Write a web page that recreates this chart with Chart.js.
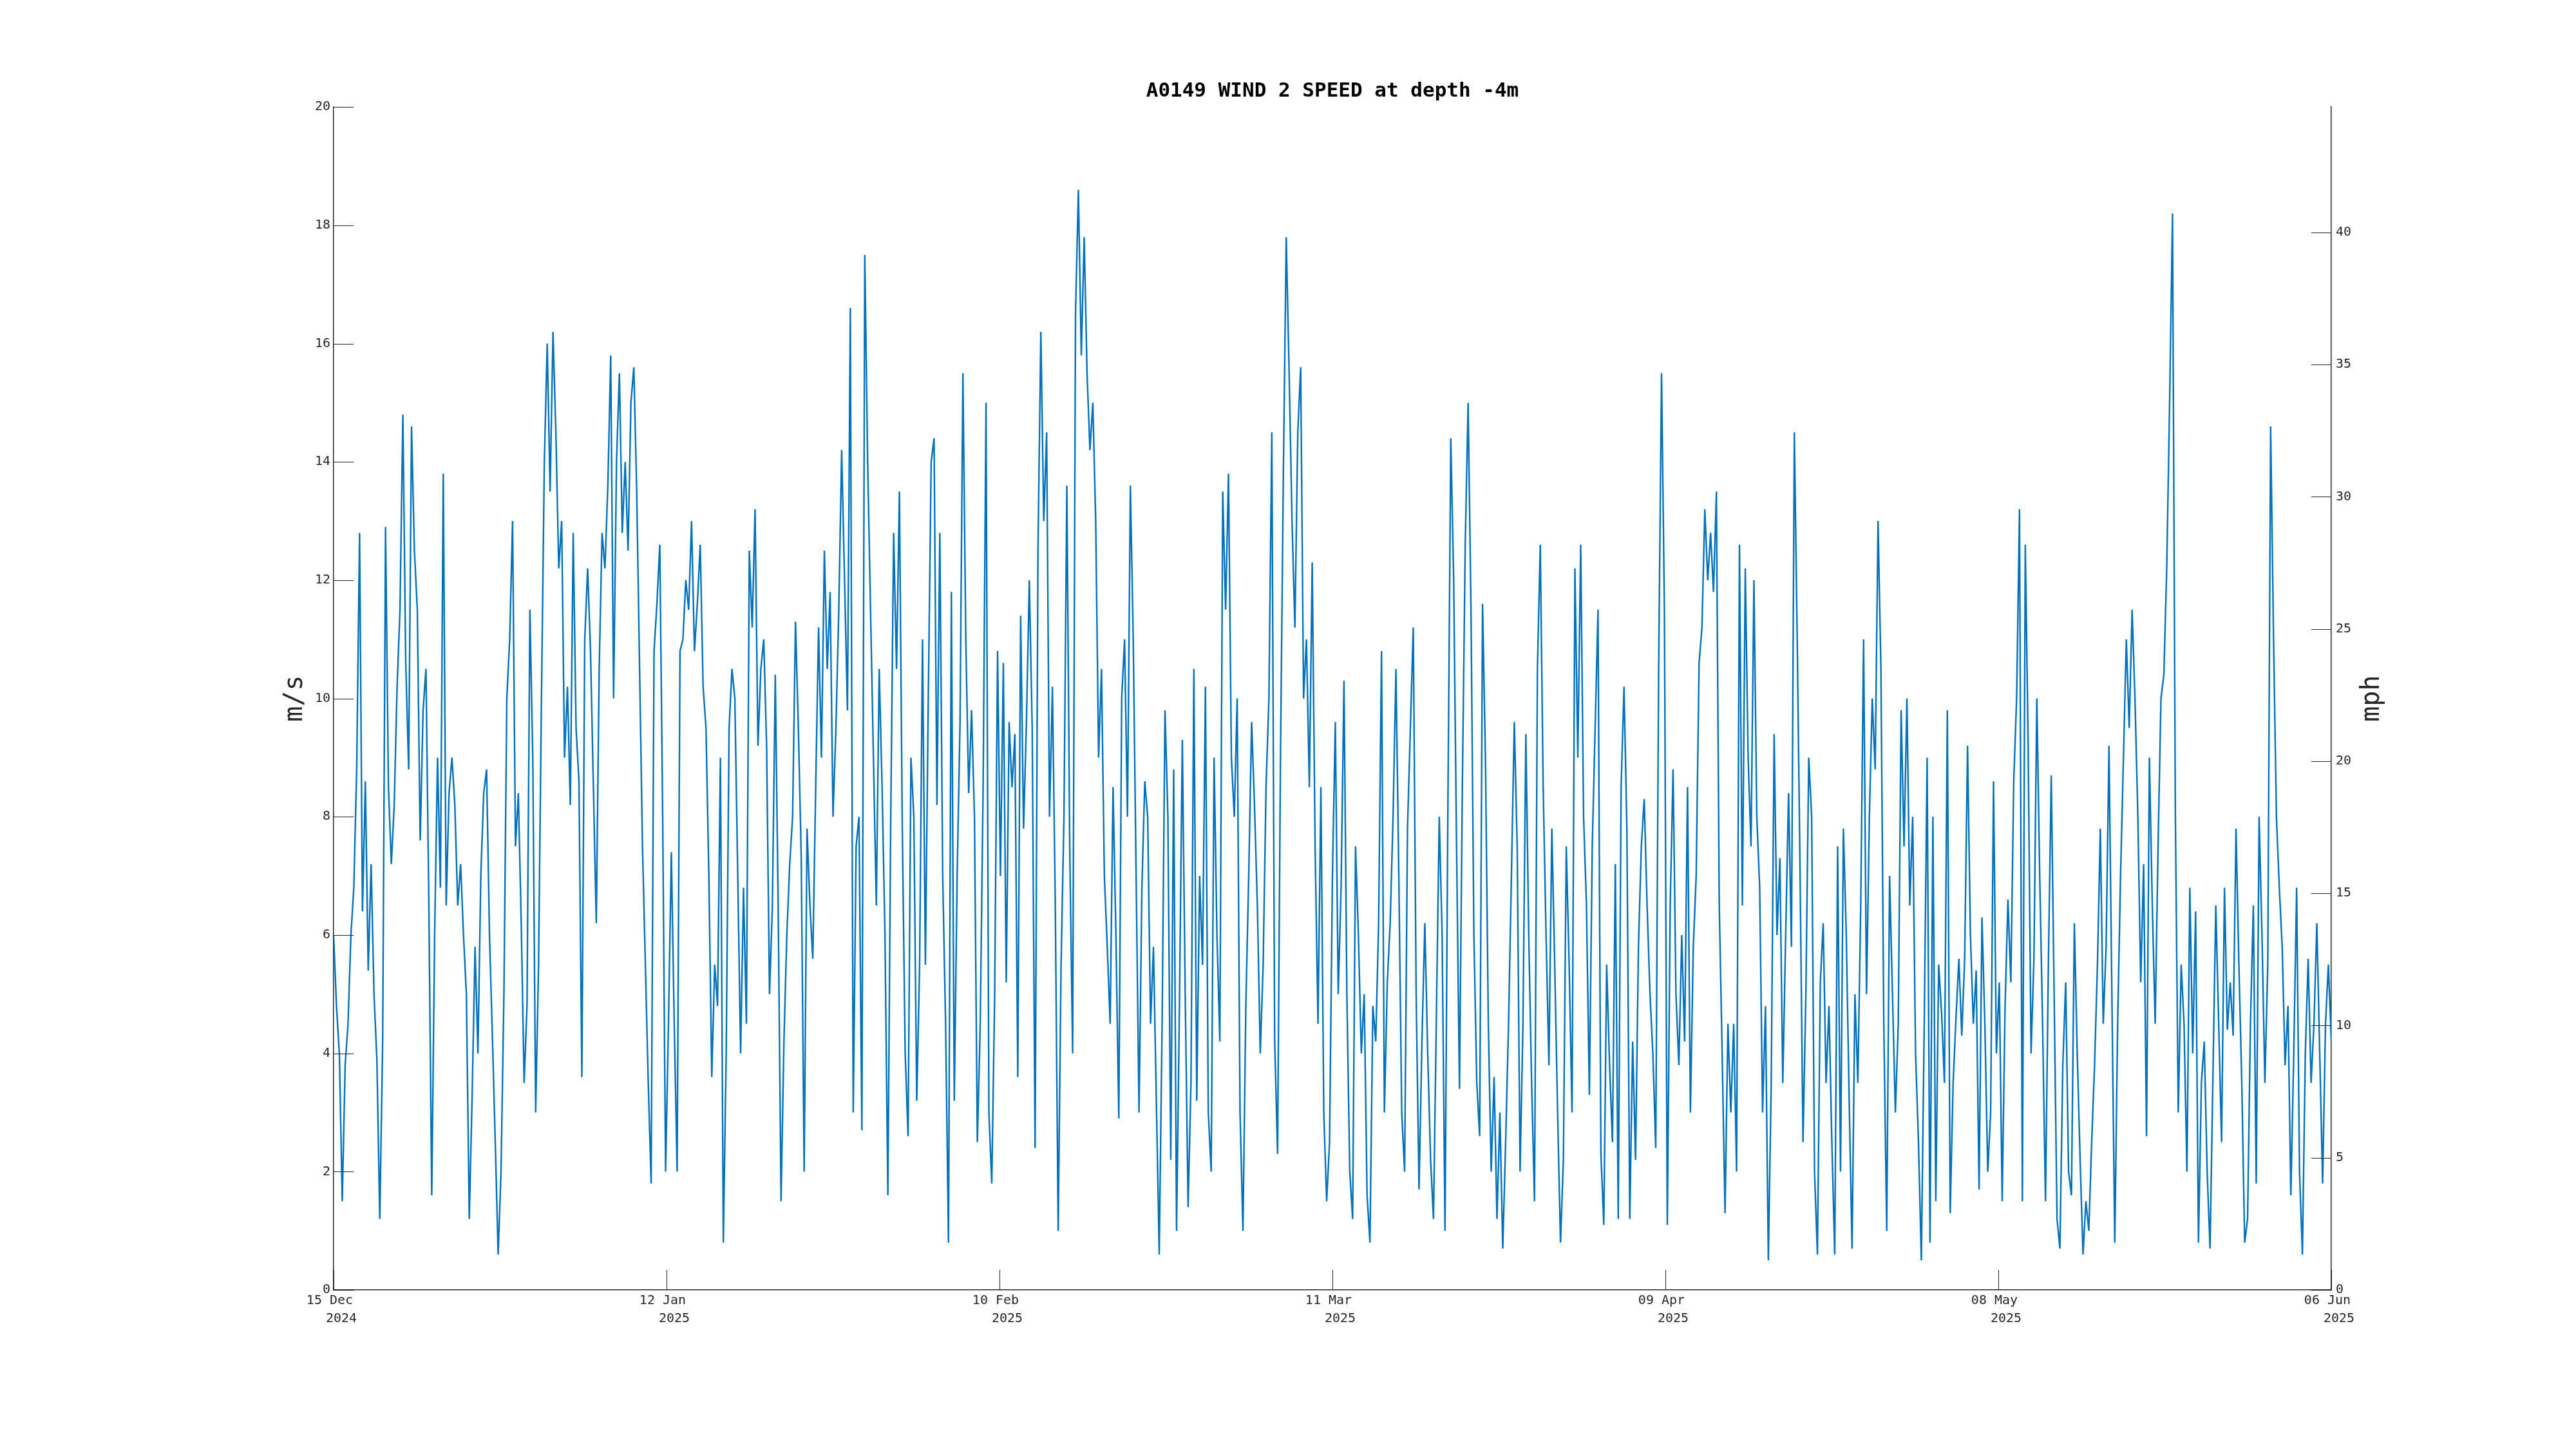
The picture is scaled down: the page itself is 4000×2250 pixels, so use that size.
<!DOCTYPE html>
<html>
<head>
<meta charset="utf-8">
<title>A0149 WIND 2 SPEED</title>
<script src="https://cdn.jsdelivr.net/npm/chart.js@4.4.1/dist/chart.umd.min.js"></script>
<style>
  html, body { margin: 0; padding: 0; background: #fff; }
  canvas { display: block; }
</style>
</head>
<body>
<canvas id="wind-chart" width="4000" height="2250"></canvas>
<script>
// wind speed (m/s), one reading every 6 hours from 15 Dec 2024 00:00
const stepDays = 0.25;

// 15 Dec - 01 Jan
const speedPart1 = [6.0,4.8,4.0,1.5,3.8,4.5,6.0,6.8,8.8,12.8,
  6.4,8.6,5.4,7.2,5.0,3.9,1.2,4.2,12.9,8.5,
  7.2,8.2,10.2,11.5,14.8,10.6,8.8,14.6,12.5,11.5,
  7.6,9.8,10.5,6.5,1.6,6.0,9.0,6.8,13.8,6.5,
  8.4,9.0,8.2,6.5,7.2,6.0,5.0,1.2,3.3,5.8,
  4.0,7.0,8.4,8.8,6.0,4.3,2.5,0.6,2.0,5.0,
  10.0,11.0,13.0,7.5,8.4,6.2,3.5,4.8,11.5,9.0];
// 01 Jan - 18 Jan
const speedPart2 = [3.0,5.5,10.0,14.0,16.0,13.5,16.2,14.5,12.2,13.0,
  9.0,10.2,8.2,12.8,9.5,8.6,3.6,11.0,12.2,10.8,
  8.5,6.2,10.5,12.8,12.2,13.6,15.8,10.0,14.0,15.5,
  12.8,14.0,12.5,15.0,15.6,13.5,10.5,7.5,5.5,3.5,
  1.8,10.8,11.6,12.6,8.0,2.0,4.5,7.4,4.5,2.0,
  10.8,11.0,12.0,11.5,13.0,10.8,11.6,12.6,10.2,9.5,
  7.0,3.6,5.5,4.8,9.0,0.8,4.0,9.5,10.5];
// 18 Jan - 05 Feb
const speedPart3 = [10.0,7.0,4.0,6.8,4.5,12.5,11.2,13.2,9.2,10.5,
  11.0,9.2,5.0,6.5,10.4,6.5,1.5,4.2,6.0,7.2,
  8.0,11.3,9.5,7.3,2.0,7.8,6.5,5.6,8.5,11.2,
  9.0,12.5,10.5,11.8,8.0,9.5,11.5,14.2,12.0,9.8,
  16.6,3.0,7.5,8.0,2.7,17.5,14.0,11.5,9.0,6.5,
  10.5,8.5,6.0,1.6,8.0,12.8,10.5,13.5,7.8,4.0,
  2.6,9.0,8.0,3.2,5.5,11.0,5.5,10.0,14.0];
// 05 Feb - 22 Feb
const speedPart4 = [14.4,8.2,12.8,7.0,4.5,0.8,11.8,3.2,7.0,9.6,
  15.5,11.0,8.4,9.8,8.0,2.5,4.5,8.5,15.0,3.0,
  1.8,5.0,10.8,7.0,10.6,5.2,9.6,8.5,9.4,3.6,
  11.4,7.8,9.6,12.0,9.5,2.4,12.5,16.2,13.0,14.5,
  8.0,10.2,6.5,1.0,5.5,8.0,13.6,7.5,4.0,16.5,
  18.6,15.8,17.8,15.5,14.2,15.0,13.0,9.0,10.5,7.0,
  5.8,4.5,8.5,6.0,2.9,10.0,11.0,8.0,13.6,11.0];
// 22 Feb - 11 Mar
const speedPart5 = [7.0,3.0,6.8,8.6,8.0,4.5,5.8,3.2,0.6,4.5,
  9.8,8.0,2.2,8.8,1.0,4.8,9.3,5.0,1.4,3.5,
  10.5,3.2,7.0,5.5,10.2,3.0,2.0,9.0,6.0,4.2,
  13.5,11.5,13.8,9.0,8.0,10.0,3.0,1.0,4.8,7.0,
  9.6,8.2,6.5,4.0,5.5,8.5,10.0,14.5,4.2,2.3,
  9.0,13.8,17.8,15.5,13.0,11.2,14.5,15.6,10.0,11.0,
  8.5,12.3,7.5,4.5,8.5,3.0,1.5,2.5,7.0];
// 11 Mar - 29 Mar
const speedPart6 = [9.6,5.0,6.8,10.3,5.0,2.0,1.2,7.5,6.0,4.0,
  5.0,1.6,0.8,4.8,4.2,6.2,10.8,3.0,5.2,6.2,
  8.0,10.5,7.0,3.0,2.0,7.8,9.5,11.2,5.0,1.7,
  4.2,6.2,4.0,2.2,1.2,4.6,8.0,6.0,1.0,8.2,
  14.4,12.0,7.5,3.4,8.5,12.6,15.0,11.5,6.0,3.5,
  2.6,11.6,9.0,4.5,2.0,3.6,1.2,3.0,0.7,2.5,
  4.5,7.0,9.6,7.5,2.0,4.5,9.4,6.0,3.5];
// 29 Mar - 15 Apr
const speedPart7 = [1.5,10.5,12.6,8.5,6.0,3.8,7.8,5.5,3.0,0.8,
  2.2,7.5,5.5,3.0,12.2,9.0,12.6,8.0,6.5,3.3,
  7.5,9.5,11.5,2.3,1.1,5.5,3.8,2.5,7.2,1.2,
  8.5,10.2,7.8,1.2,4.2,2.2,5.8,7.5,8.3,6.5,
  5.0,4.0,2.4,10.5,15.5,11.5,1.1,6.5,8.8,5.0,
  3.8,6.0,4.2,8.5,3.0,5.8,7.0,10.6,11.2,13.2,
  12.0,12.8,11.8,13.5,6.5,4.0,1.3,4.5,3.0];
// 15 Apr - 03 May
const speedPart8 = [4.5,2.0,12.6,6.5,12.2,9.0,7.5,12.0,8.0,6.8,
  3.0,4.8,0.5,3.5,9.4,6.0,7.3,3.5,6.0,8.4,
  5.8,14.5,11.0,7.0,2.5,5.0,9.0,8.0,2.0,0.6,
  5.2,6.2,3.5,4.8,2.5,0.6,7.5,2.0,7.8,6.0,
  3.2,0.7,5.0,3.5,6.5,11.0,5.0,8.0,10.0,8.8,
  13.0,10.5,4.5,1.0,7.0,5.0,3.0,4.5,9.8,7.5,
  10.0,6.5,8.0,4.0,2.5,0.5,4.5,9.0,0.8];
// 03 May - 20 May
const speedPart9 = [8.0,1.5,5.5,4.7,3.5,9.8,1.3,3.5,4.6,5.6,
  4.3,5.6,9.2,6.0,4.5,5.4,1.7,6.3,4.5,2.0,
  3.0,8.6,4.0,5.2,1.5,4.8,6.6,5.2,8.6,10.0,
  13.2,1.5,12.6,9.2,4.0,5.6,10.0,7.0,4.5,1.5,
  5.5,8.7,5.0,1.2,0.7,3.8,5.2,2.0,1.6,6.2,
  4.0,2.2,0.6,1.5,1.0,2.5,3.8,5.5,7.8,4.5,
  5.8,9.2,5.0,0.8,4.5,7.0,9.0,11.0,9.5];
// 20 May - 06 Jun
const speedPart10 = [11.5,10.0,8.0,5.2,7.2,2.6,9.0,6.5,4.5,7.5,
  10.0,10.4,12.2,15.0,18.2,8.0,3.0,5.5,4.5,2.0,
  6.8,4.0,6.4,0.8,3.5,4.2,2.0,0.7,3.6,6.5,
  4.5,2.5,6.8,4.4,5.2,4.3,7.8,5.5,3.5,0.8,
  1.2,4.5,6.5,1.8,8.0,6.0,3.5,5.5,14.6,11.0,
  8.0,6.8,5.8,3.8,4.8,1.6,4.0,6.8,2.0,0.6,
  4.0,5.6,3.5,4.5,6.2,4.0,1.8,4.5,5.5,4.2];

const tickDays = ['15 Dec', '12 Jan', '10 Feb', '11 Mar', '09 Apr', '08 May', '06 Jun'];
const tickYears = ['2024', '2025', '2025', '2025', '2025', '2025', '2025'];
const spanDays = 173;
const msToMph = 2.23694;

const speed = [].concat(speedPart1, speedPart2, speedPart3, speedPart4, speedPart5,
  speedPart6, speedPart7, speedPart8, speedPart9, speedPart10);
const points = speed.map((v, i) => ({ x: i * stepDays, y: v }));
const tickPos = tickDays.map((d, i) => i * spanDays / (tickDays.length - 1));

const axisColor = '#262626';
const mono = 'DejaVu Sans Mono';

// matlab style: tick marks point into the plot, right label reads upwards
const innerTicks = {
  id: 'innerTicks',
  afterDraw(chart) {
    const ctx = chart.ctx;
    const a = chart.chartArea;
    const len = 31;
    ctx.save();
    ctx.strokeStyle = axisColor;
    ctx.lineWidth = 1;
    ctx.beginPath();
    chart.scales.y.ticks.forEach(t => {
      const py = Math.round(chart.scales.y.getPixelForValue(t.value)) + 0.5;
      ctx.moveTo(a.left, py); ctx.lineTo(a.left + len, py);
    });
    chart.scales.y2.ticks.forEach(t => {
      const py = Math.round(chart.scales.y2.getPixelForValue(t.value)) + 0.5;
      ctx.moveTo(a.right - len, py); ctx.lineTo(a.right, py);
    });
    chart.scales.x.ticks.forEach(t => {
      const px = Math.round(chart.scales.x.getPixelForValue(t.value)) + 0.5;
      ctx.moveTo(px, a.bottom); ctx.lineTo(px, a.bottom - len);
    });
    ctx.stroke();

    ctx.fillStyle = axisColor;
    ctx.font = '40px "' + mono + '"';
    ctx.textAlign = 'center';
    ctx.textBaseline = 'middle';
    ctx.translate(3684, (a.top + a.bottom) / 2);
    ctx.rotate(-Math.PI / 2);
    ctx.fillText('mph', 0, 0);
    ctx.restore();
  }
};

new Chart(document.getElementById('wind-chart').getContext('2d'), {
  type: 'line',
  data: {
    datasets: [{
      label: 'WIND 2 SPEED',
      data: points,
      borderColor: '#0072BD',
      borderWidth: 2.4,
      pointRadius: 0,
      tension: 0,
      fill: false,
      yAxisID: 'y'
    }]
  },
  options: {
    responsive: false,
    animation: false,
    devicePixelRatio: 1,
    layout: { padding: { left: 138, right: 0, top: 0, bottom: 0 } },
    plugins: {
      legend: { display: false },
      tooltip: { enabled: false },
      title: {
        display: true,
        text: 'A0149 WIND 2 SPEED at depth -4m',
        color: '#000',
        font: { family: mono, size: 31, weight: 'bold' },
        padding: { top: 123, bottom: 6 }
      }
    },
    scales: {
      x: {
        type: 'linear',
        min: 0,
        max: spanDays,
        grid: { display: false, drawTicks: false },
        border: { display: true, color: axisColor, width: 1.5 },
        afterBuildTicks: s => { s.ticks = tickPos.map(v => ({ value: v })); },
        afterFit: s => { s.height = 247; },
        ticks: {
          autoSkip: false,
          maxRotation: 0,
          padding: 3,
          color: axisColor,
          font: { family: mono, size: 20, lineHeight: 1.4 },
          callback: (v, i) => [tickDays[i] + ' ', '  ' + tickYears[i]]
        }
      },
      y: {
        position: 'left',
        min: 0,
        max: 20,
        grid: { display: false, drawTicks: false },
        border: { display: true, color: axisColor, width: 1.5 },
        afterFit: s => { s.width = 380; },
        ticks: {
          stepSize: 2,
          padding: 5,
          color: axisColor,
          font: { family: mono, size: 20 }
        },
        title: {
          display: true,
          text: 'm/s',
          color: axisColor,
          font: { family: mono, size: 40 },
          padding: { top: 297, bottom: 0 }
        }
      },
      y2: {
        position: 'right',
        min: 0,
        max: 20 * msToMph,
        grid: { display: false, drawTicks: false },
        border: { display: true, color: axisColor, width: 1.5 },
        afterBuildTicks: s => { s.ticks = s.ticks.filter(t => t.value % 5 === 0); },
        afterFit: s => { s.width = 380; },
        ticks: {
          stepSize: 5,
          padding: 7,
          color: axisColor,
          font: { family: mono, size: 20 }
        }
      }
    }
  },
  plugins: [innerTicks]
});
</script>
</body>
</html>
